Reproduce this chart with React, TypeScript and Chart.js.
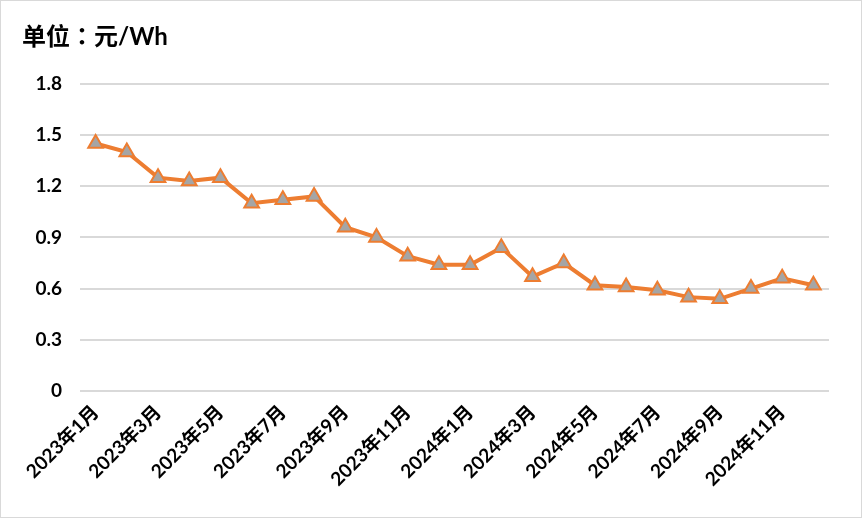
import React, { useEffect, useRef } from "react";
import { Chart, registerables } from "chart.js";

Chart.register(...registerables);

const categories: string[] = [
  "2023年1月", "2023年2月", "2023年3月", "2023年4月", "2023年5月", "2023年6月",
  "2023年7月", "2023年8月", "2023年9月", "2023年10月", "2023年11月", "2023年12月",
  "2024年1月", "2024年2月", "2024年3月", "2024年4月", "2024年5月", "2024年6月",
  "2024年7月", "2024年8月", "2024年9月", "2024年10月", "2024年11月", "2024年12月",
];

const prices: number[] = [
  1.45, 1.40, 1.25, 1.23, 1.25, 1.10,
  1.12, 1.14, 0.96, 0.90, 0.79, 0.74,
  0.74, 0.84, 0.67, 0.75, 0.62, 0.61,
  0.59, 0.55, 0.54, 0.60, 0.66, 0.62,
];

const yTicks: number[] = [0, 0.3, 0.6, 0.9, 1.2, 1.5, 1.8];
const titleText = "单位：元/Wh";

const FONT = "Lato, 'Noto Sans CJK SC', sans-serif";
const TITLE_FONT = "Lato, 'Noto Sans CJK TC', sans-serif";

export default function App() {
  const ref = useRef<HTMLCanvasElement | null>(null);

  useEffect(() => {
    document.body.style.margin = "0";
    const canvas = ref.current;
    if (!canvas) return;
    const chart = new Chart(canvas, {
      type: "line",
      data: {
        labels: categories,
        datasets: [
          {
            data: prices,
            borderColor: "#ED7D31",
            borderWidth: 4,
            pointStyle: "triangle",
            pointRadius: 8.5,
            pointHoverRadius: 8.5,
            pointBackgroundColor: "#A5A5A5",
            pointBorderColor: "#ED7D31",
            pointBorderWidth: 2,
            tension: 0,
          },
        ],
      },
      options: {
        responsive: false,
        animation: false,
        layout: { padding: { left: 21, right: 32, top: 0, bottom: 0 } },
        plugins: {
          legend: { display: false },
          tooltip: { enabled: false },
          title: {
            display: true,
            text: titleText,
            align: "start",
            color: "#000000",
            font: { family: TITLE_FONT, size: 24, weight: "bold" },
            padding: { top: 22, bottom: 32 },
          },
        },
        scales: {
          x: {
            offset: true,
            grid: { display: false, drawTicks: false },
            border: { display: false },
            ticks: {
              autoSkip: false,
              maxRotation: 45,
              minRotation: 45,
              padding: 10,
              color: "#000000",
              font: { family: FONT, size: 19, weight: "bold" },
              callback: (_v: any, i: number) => (i % 2 === 0 ? categories[i] : ""),
            },
            afterFit: (scale: any) => {
              scale.height = 126;
            },
          },
          y: {
            min: 0,
            max: 1.8,
            afterBuildTicks: (scale: any) => {
              scale.ticks = yTicks.map((v) => ({ value: v }));
            },
            grid: { color: "#D9D9D9", lineWidth: 2, drawTicks: false },
            border: { display: false },
            ticks: {
              padding: 18,
              color: "#000000",
              font: { family: FONT, size: 19, weight: "bold" },
              callback: (v: any) => String(Number(v).toFixed(1)).replace(/^0\.0$/, "0"),
            },
            afterFit: (scale: any) => {
              scale.width = 58;
            },
          },
        },
      },
    });
    return () => chart.destroy();
  }, []);

  return (
    <div
      style={{
        position: "absolute",
        left: 0,
        top: 0,
        width: 862,
        height: 518,
        boxSizing: "border-box",
        border: "1px solid #D9D9D9",
        background: "#FFFFFF",
      }}
    >
      <canvas ref={ref} width={860} height={516} style={{ display: "block" }} />
    </div>
  );
}
